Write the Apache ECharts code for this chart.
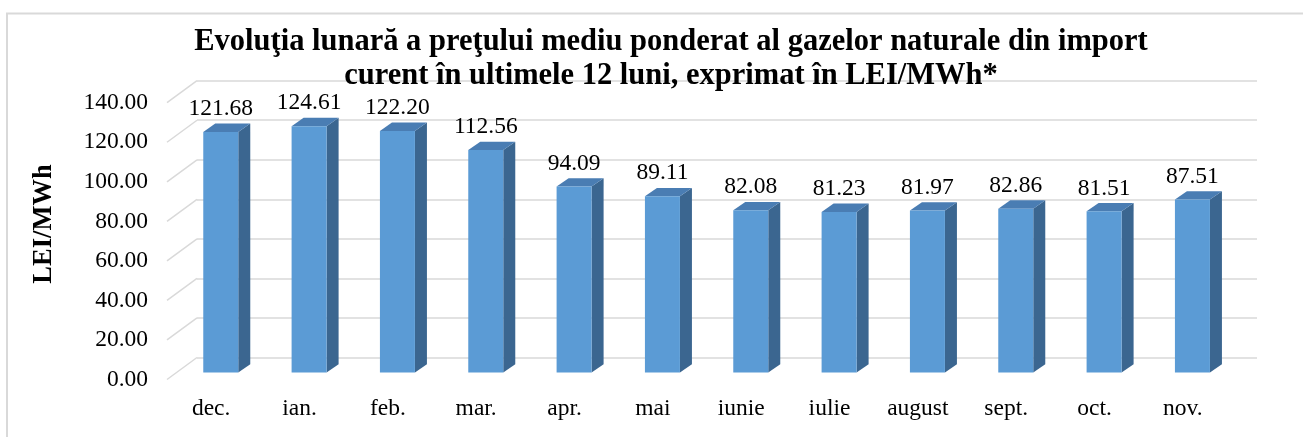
<!DOCTYPE html>
<html>
<head>
<meta charset="utf-8">
<script src="https://cdn.jsdelivr.net/npm/echarts@6/dist/echarts.min.js"></script>
<style>
  html, body { margin: 0; padding: 0; background: #fff; }
  #chart { width: 1303px; height: 437px; }
</style>
</head>
<body>
<div id="chart"></div>
<script>
// luni si valori (LEI/MWh)
var months = ['dec.', 'ian.', 'feb.', 'mar.', 'apr.', 'mai', 'iunie', 'iulie', 'august', 'sept.', 'oct.', 'nov.'];
var prices = [121.68, 124.61, 122.20, 112.56, 94.09, 89.11, 82.08, 81.23, 81.97, 82.86, 81.51, 87.51];
var yTicks = [0, 20, 40, 60, 80, 100, 120, 140];

var FONT = 'Liberation Serif';
var DEPTH_X = 30, DEPTH_Y = 22;      // perete spate -> fata podelei
var FRONT = [-20.4, 15];              // fata barei fata de peretele din spate
var BACK = [-8.4, 6.7];               // spatele barei
var BAR_W = 35;

var myChart = echarts.init(document.getElementById('chart'));

function renderBar(params, api) {
  var i = api.value(0), v = api.value(1);
  var base = api.coord([i, 0]);
  var top = api.coord([i, v]);
  var cx = base[0];
  var fl = cx + FRONT[0] - BAR_W / 2, fr = fl + BAR_W;
  var fTop = top[1] + FRONT[1], fBot = base[1] + FRONT[1];
  var dx = BACK[0] - FRONT[0], dy = BACK[1] - FRONT[1];
  return {
    type: 'group',
    children: [
      { type: 'polygon', shape: { points: [[fr, fTop], [fr + dx, fTop + dy], [fr + dx, fBot + dy], [fr, fBot]] },
        style: { fill: '#3b6690' } },
      { type: 'polygon', shape: { points: [[fl, fTop], [fr, fTop], [fr + dx, fTop + dy], [fl + dx, fTop + dy]] },
        style: { fill: '#4a7db3' } },
      { type: 'rect', shape: { x: fl, y: fTop, width: BAR_W, height: fBot - fTop },
        style: { fill: '#5b9bd5' } },
      { type: 'text', x: cx + FRONT[0], y: fTop - 23,
        style: { text: v.toFixed(2), fill: '#000', font: '23.5px "' + FONT + '"', align: 'center', verticalAlign: 'middle' } }
    ]
  };
}

function renderDiag(params, api) {
  var y = api.coord([0, api.value(1)])[1];
  var x = params.coordSys.x;
  return {
    type: 'line',
    shape: { x1: x, y1: y, x2: x - DEPTH_X, y2: y + DEPTH_Y },
    style: { stroke: '#d9d9d9', lineWidth: 1.5 }
  };
}

var option = {
  animation: false,
  backgroundColor: '#fff',
  title: {
    text: 'Evoluţia lunară a preţului mediu ponderat al gazelor naturale din import\ncurent în ultimele 12 luni, exprimat în LEI/MWh*',
    left: 666,
    top: 20,
    textAlign: 'center',
    textStyle: { fontFamily: FONT, fontSize: 30.5, fontWeight: 'bold', color: '#000', lineHeight: 34 }
  },
  graphic: [
    { type: 'rect', shape: { x: 7, y: 13.5, width: 1400, height: 500 }, style: { fill: 'none', stroke: '#d9d9d9', lineWidth: 2 }, z: -1 },
    { type: 'text', x: 44, y: 224, rotation: Math.PI / 2,
      style: { text: 'LEI/MWh', font: 'bold 26.5px "' + FONT + '"', fill: '#000', align: 'center', verticalAlign: 'middle' } }
  ],
  grid: [
    { left: 197, right: 46, top: 80.7, bottom: 79.5 },
    { left: 167, right: 76, top: 102.7, bottom: 57.5 }
  ],
  xAxis: [
    { type: 'category', gridIndex: 0, data: months, axisLine: { show: false }, axisTick: { show: false }, axisLabel: { show: false } },
    { type: 'category', gridIndex: 1, data: months, axisLine: { show: false }, axisTick: { show: false },
      axisLabel: { margin: 17, fontFamily: FONT, fontSize: 23.5, color: '#000' } }
  ],
  yAxis: [
    { type: 'value', gridIndex: 0, min: 0, max: 140, interval: 20, axisLabel: { show: false },
      axisLine: { show: false }, axisTick: { show: false },
      splitLine: { lineStyle: { color: '#d9d9d9', width: 1.5 } } },
    { type: 'value', gridIndex: 1, min: 0, max: 140, interval: 20, splitLine: { show: false },
      axisLine: { show: false }, axisTick: { show: false },
      axisLabel: { margin: 19, fontFamily: FONT, fontSize: 23.5, color: '#000',
        formatter: function (v) { return v.toFixed(2); } } }
  ],
  series: [
    { type: 'custom', xAxisIndex: 0, yAxisIndex: 0, renderItem: renderDiag,
      data: yTicks.map(function (t) { return [0, t]; }), silent: true },
    { type: 'custom', xAxisIndex: 0, yAxisIndex: 0, renderItem: renderBar,
      data: prices.map(function (p, i) { return [i, p]; }), z: 3 }
  ]
};

myChart.setOption(option);
window.onresize = function () { myChart.resize(); };
</script>
</body>
</html>
